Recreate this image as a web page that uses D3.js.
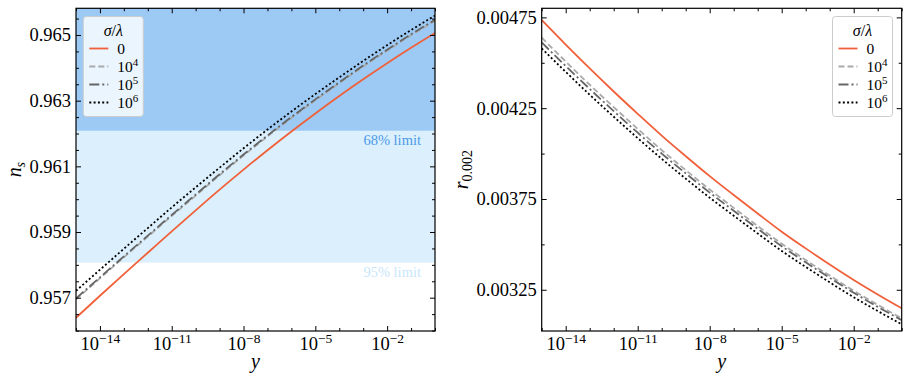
<!DOCTYPE html>
<html>
<head>
<meta charset="utf-8">
<script src="https://cdn.jsdelivr.net/npm/d3@7"></script>
<style>
  body { margin: 0; background: #fff; }
</style>
</head>
<body>
<svg id="fig" width="910" height="384"></svg>
<script>
// log10(y) grid the curves were read on
const logY = [-15, -14, -13, -12, -11, -10, -9, -8, -7, -6, -5, -4, -3, -2, -1, 0];

// n_s for sigma/lambda = 0, 1e4, 1e5, 1e6
const nsS0 = [0.95639, 0.95706, 0.95772, 0.95837, 0.95902, 0.95966, 0.96029, 0.96090, 0.96149, 0.96206, 0.96261, 0.96314, 0.96365, 0.96414, 0.96461, 0.96506];
const nsS4 = [0.95695, 0.95759, 0.95823, 0.95886, 0.95949, 0.96011, 0.96073, 0.96133, 0.96191, 0.96247, 0.96301, 0.96353, 0.96404, 0.96452, 0.96499, 0.96543];
const nsS5 = [0.95698, 0.95762, 0.95826, 0.95889, 0.95952, 0.96014, 0.96076, 0.96136, 0.96194, 0.96250, 0.96304, 0.96356, 0.96407, 0.96455, 0.96502, 0.96546];
const nsS6 = [0.95721, 0.95785, 0.95849, 0.95912, 0.95975, 0.96036, 0.96096, 0.96155, 0.96212, 0.96267, 0.96320, 0.96371, 0.96421, 0.96469, 0.96515, 0.96559];

// r_0.002 for the same sigma/lambda values
const rS0 = [0.004735, 0.004600, 0.004469, 0.004342, 0.004219, 0.004099, 0.003986, 0.003876, 0.003772, 0.003670, 0.003570, 0.003478, 0.003389, 0.003304, 0.003224, 0.003148];
const rS4 = [0.004638, 0.004507, 0.004379, 0.004256, 0.004136, 0.004019, 0.003909, 0.003802, 0.003701, 0.003601, 0.003504, 0.003414, 0.003328, 0.003245, 0.003167, 0.003093];
const rS5 = [0.004612, 0.004482, 0.004356, 0.004234, 0.004115, 0.004000, 0.003891, 0.003785, 0.003685, 0.003586, 0.003490, 0.003401, 0.003316, 0.003234, 0.003156, 0.003083];
const rS6 = [0.004579, 0.004450, 0.004324, 0.004203, 0.004085, 0.003971, 0.003862, 0.003757, 0.003658, 0.003560, 0.003464, 0.003376, 0.003291, 0.003209, 0.003133, 0.003060];

// legend labels: base and exponent ("" = plain)
const sigmaLabels = [["0", ""], ["10", "4"], ["10", "5"], ["10", "6"]];

// Planck bands on n_s
const band68 = [0.96208, 0.9700];
const band95 = [0.95807, 0.96208];

// axis ticks
const xMajorExp = [-14, -11, -8, -5, -2];
const xMinorExp = [-15, -13, -12, -10, -9, -7, -6, -4, -3, -1, 0];
const nsTicks = [0.957, 0.959, 0.961, 0.963, 0.965];
const nsMinor = [0.9560, 0.9565, 0.9575, 0.9580, 0.9585, 0.9595, 0.9600, 0.9605, 0.9615, 0.9620, 0.9625, 0.9635, 0.9640, 0.9645, 0.9655];
const rTicks = [0.00325, 0.00375, 0.00425, 0.00475];
const rMinor = [0.0035, 0.0040, 0.0045];

const styles = [
  { color: "#f0603a", dash: null },
  { color: "#aaaaaa", dash: "6,3" },
  { color: "#666666", dash: "10,3,2,3" },
  { color: "#000000", dash: "2,2.3" }
];

const svg = d3.select("#fig");

const drawPanel = (opt) => {
  const { left, right, top, bottom } = opt;
  const x = d3.scaleLog().domain([1e-15, 1]).range([left, right]);
  const y = d3.scaleLinear().domain(opt.yDomain).range([bottom, top]);
  const g = svg.append("g");

  const clipId = "clip" + opt.id;
  g.append("clipPath").attr("id", clipId)
    .append("rect")
    .attr("x", left).attr("y", top)
    .attr("width", right - left).attr("height", bottom - top);

  const plot = g.append("g").attr("clip-path", `url(#${clipId})`);

  if (opt.bands) {
    plot.append("rect")
      .attr("x", left).attr("width", right - left)
      .attr("y", y(band68[1])).attr("height", y(band68[0]) - y(band68[1]))
      .attr("fill", "#9ccaf5");
    plot.append("rect")
      .attr("x", left).attr("width", right - left)
      .attr("y", y(band95[1])).attr("height", y(band95[0]) - y(band95[1]))
      .attr("fill", "#dbf0fc");
    plot.append("text")
      .attr("x", right - 14).attr("y", y(band68[0]) + 14)
      .attr("text-anchor", "end")
      .attr("font-size", 14.5)
      .style("fill", "#4d9aea")
      .text("68% limit");
    plot.append("text")
      .attr("x", right - 14).attr("y", y(band95[0]) + 14)
      .attr("text-anchor", "end")
      .attr("font-size", 14.5)
      .style("fill", "#c8e6fb")
      .text("95% limit");
  }

  const line = d3.line()
    .x((d) => x(Math.pow(10, d[0])))
    .y((d) => y(d[1]))
    .curve(d3.curveMonotoneX);

  opt.series.forEach((vals, i) => {
    plot.append("path")
      .datum(logY.map((e, k) => [e, vals[k]]))
      .attr("d", line)
      .attr("fill", "none")
      .attr("stroke", styles[i].color)
      .attr("stroke-width", 1.8)
      .attr("stroke-dasharray", styles[i].dash);
  });

  // axes, ticks pointing inward on all four sides
  const major = xMajorExp.map((e) => Math.pow(10, e));
  const minor = xMinorExp.map((e) => Math.pow(10, e));

  const xb = g.append("g").attr("transform", `translate(0,${bottom})`)
    .call(d3.axisBottom(x).tickValues(major).tickSize(-5).tickPadding(6));
  g.append("g").attr("transform", `translate(0,${bottom})`)
    .call(d3.axisBottom(x).tickValues(minor).tickSize(-3).tickFormat(""));
  g.append("g").attr("transform", `translate(0,${top})`)
    .call(d3.axisTop(x).tickValues(major).tickSize(-5).tickFormat(""));
  g.append("g").attr("transform", `translate(0,${top})`)
    .call(d3.axisTop(x).tickValues(minor).tickSize(-3).tickFormat(""));

  xb.selectAll(".tick text").each(function (d) {
    const t = d3.select(this).text("").attr("font-size", 18.5);
    t.append("tspan").text("10");
    t.append("tspan").attr("dy", -7).attr("font-size", 13.5)
      .text("\u2212" + Math.round(-Math.log10(d)));
  });

  const yl = g.append("g").attr("transform", `translate(${left},0)`)
    .call(d3.axisLeft(y).tickValues(opt.yTicks).tickSize(-5).tickPadding(5)
      .tickFormat(d3.format(opt.yFormat)));
  g.append("g").attr("transform", `translate(${left},0)`)
    .call(d3.axisLeft(y).tickValues(opt.yMinor).tickSize(-3).tickFormat(""));
  g.append("g").attr("transform", `translate(${right},0)`)
    .call(d3.axisRight(y).tickValues(opt.yTicks).tickSize(-5).tickFormat(""));
  g.append("g").attr("transform", `translate(${right},0)`)
    .call(d3.axisRight(y).tickValues(opt.yMinor).tickSize(-3).tickFormat(""));
  yl.selectAll(".tick text").attr("font-size", 18.5);

  g.selectAll(".domain").remove();
  g.selectAll(".tick line").attr("stroke", "#000").attr("stroke-width", 1);

  g.append("rect")
    .attr("x", left).attr("y", top)
    .attr("width", right - left).attr("height", bottom - top)
    .attr("fill", "none").attr("stroke", "#000").attr("stroke-width", 1.2);

  // axis labels
  g.append("text")
    .attr("x", (left + right) / 2).attr("y", 368)
    .attr("text-anchor", "middle")
    .attr("font-size", 20).attr("font-style", "italic")
    .text("y");

  const yLab = g.append("text")
    .attr("transform", `translate(${opt.yLabelX},${(top + bottom) / 2}) rotate(-90)`)
    .attr("text-anchor", "middle")
    .attr("font-size", 20);
  yLab.append("tspan").attr("font-style", "italic").text(opt.yLabel[0]);
  yLab.append("tspan").attr("dy", 4).attr("font-size", 14)
    .attr("font-style", opt.yLabel[2] ? "italic" : null)
    .text(opt.yLabel[1]);

  // legend
  const lg = g.append("g").attr("transform", `translate(${opt.legendX},16.5)`);
  lg.append("rect")
    .attr("width", 60).attr("height", 100).attr("rx", 3)
    .attr("fill", "#fff").attr("fill-opacity", 0.8)
    .attr("stroke", "#cccccc").attr("stroke-width", 1);
  const title = lg.append("text")
    .attr("x", 30).attr("y", 19)
    .attr("text-anchor", "middle").attr("font-size", 16);
  title.append("tspan").attr("font-style", "italic").text("\u03c3");
  title.append("tspan").text("/");
  title.append("tspan").attr("font-style", "italic").text("\u03bb");

  sigmaLabels.forEach((lab, i) => {
    const cy = 32 + i * 18;
    lg.append("line")
      .attr("x1", 6).attr("x2", 25).attr("y1", cy).attr("y2", cy)
      .attr("stroke", styles[i].color).attr("stroke-width", 1.8)
      .attr("stroke-dasharray", styles[i].dash);
    const t = lg.append("text")
      .attr("x", 34).attr("y", cy + 5).attr("font-size", 15.5);
    t.append("tspan").text(lab[0]);
    if (lab[1]) {
      t.append("tspan").attr("dy", -6).attr("font-size", 11).text(lab[1]);
    }
  });
};

drawPanel({
  id: "L", left: 76, right: 435, top: 8.3, bottom: 331,
  yDomain: [0.955986, 0.965813],
  yTicks: nsTicks, yMinor: nsMinor, yFormat: ".3f",
  series: [nsS0, nsS4, nsS5, nsS6],
  bands: true,
  yLabel: ["n", "s", true], yLabelX: 21,
  legendX: 83.3
});

drawPanel({
  id: "R", left: 541.7, right: 901.7, top: 8.3, bottom: 331,
  yDomain: [0.003023, 0.0048],
  yTicks: rTicks, yMinor: rMinor, yFormat: ".5f",
  series: [rS0, rS4, rS5, rS6],
  bands: false,
  yLabel: ["r", "0.002", false], yLabelX: 468,
  legendX: 832.5
});

// serif font on every label, set inline so nothing overrides it
svg.selectAll("text").style("font-family", "\"Liberation Serif\"");
</script>
</body>
</html>
